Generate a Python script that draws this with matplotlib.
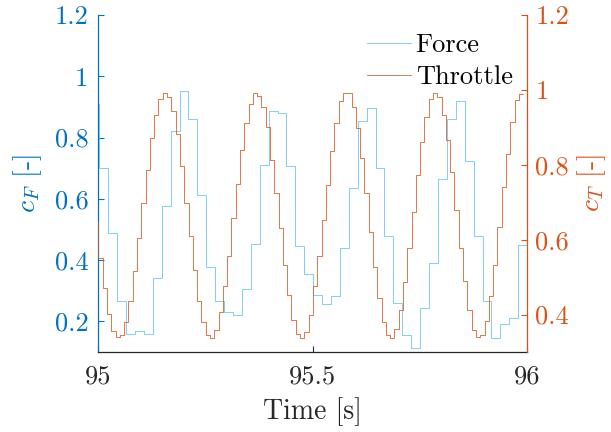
import numpy as np
import matplotlib.pyplot as plt

plt.rcParams['font.family'] = ['cmr10', 'DejaVu Serif']
plt.rcParams['mathtext.fontset'] = 'cm'
plt.rcParams['axes.formatter.use_mathtext'] = True

# force coefficient, sample-and-hold (~48 Hz), first value is the one before 95 s
force_t0 = 94.9824
force_dt = 0.02077
force_vals = [0.909,
              0.702, 0.490, 0.266, 0.158, 0.168, 0.158, 0.340, 0.576, 0.822, 0.953,
              0.862, 0.612, 0.379, 0.266, 0.230, 0.221, 0.307, 0.454, 0.711, 0.887,
              0.879, 0.706, 0.446, 0.354, 0.286, 0.256, 0.283, 0.441, 0.634, 0.855,
              0.898, 0.702, 0.479, 0.261, 0.155, 0.114, 0.245, 0.390, 0.664, 0.860,
              0.918, 0.722, 0.479, 0.266, 0.147, 0.192, 0.212, 0.449, 0.704]

# throttle coefficient, 100 Hz
thr_t0 = 94.991
thr_dt = 0.01
thr_vals = [0.648,
            0.552, 0.470, 0.402, 0.355, 0.340, 0.345, 0.380, 0.437, 0.516, 0.605,
            0.699, 0.786, 0.871, 0.934, 0.976, 0.992, 0.980, 0.944, 0.882, 0.798,
            0.699, 0.610, 0.519, 0.437, 0.380, 0.346, 0.338, 0.360, 0.407, 0.475,
            0.557, 0.657, 0.750, 0.839, 0.911, 0.963, 0.992, 0.985, 0.953, 0.902,
            0.813, 0.724, 0.630, 0.532, 0.453, 0.386, 0.349, 0.338, 0.353, 0.398,
            0.476, 0.557, 0.652, 0.746, 0.838, 0.911, 0.971, 0.992, 0.992, 0.953,
            0.898, 0.819, 0.724, 0.621, 0.528, 0.445, 0.380, 0.345, 0.338, 0.362,
            0.412, 0.486, 0.578, 0.673, 0.773, 0.860, 0.928, 0.975, 0.992, 0.981,
            0.934, 0.867, 0.782, 0.678, 0.578, 0.490, 0.413, 0.360, 0.340, 0.346,
            0.382, 0.449, 0.532, 0.635, 0.740, 0.829, 0.913, 0.972, 0.989, 0.989]

xticks = [95, 95.5, 96]
xticklabels = ['95', '95.5', '96']
left_ticks = [0.2, 0.4, 0.6, 0.8, 1.0, 1.2]
left_labels = ['0.2', '0.4', '0.6', '0.8', '1', '1.2']
right_ticks = [0.4, 0.6, 0.8, 1.0, 1.2]
right_labels = ['0.4', '0.6', '0.8', '1', '1.2']

blue = '#0072BD'
orange = '#D95319'
force_col = '#5EC2EC'
dark = '#262626'

force_t = force_t0 + force_dt * np.arange(len(force_vals))
thr_t = thr_t0 + thr_dt * np.arange(len(thr_vals))

fig = plt.figure(figsize=(6.11, 4.32), dpi=100)
ax = fig.add_axes([98 / 611, 80 / 432, 429 / 611, 337 / 432])
ax2 = ax.twinx()

l1, = ax.plot(force_t, force_vals, drawstyle='steps-post', color=force_col, lw=0.55, label='Force')
l2, = ax2.plot(thr_t, thr_vals, drawstyle='steps-post', color=orange, lw=0.55, label='Throttle')

ax.set_xlim(95, 96)
ax.set_ylim(0.1, 1.2)
ax2.set_ylim(0.3, 1.2)

ax.set_xticks(xticks)
ax.set_xticklabels(xticklabels)
ax.set_yticks(left_ticks)
ax.set_yticklabels(left_labels)
ax2.set_yticks(right_ticks)
ax2.set_yticklabels(right_labels)

for a in (ax, ax2):
    a.spines['top'].set_visible(False)
ax.spines['right'].set_visible(False)
ax2.spines['left'].set_visible(False)
ax2.spines['bottom'].set_visible(False)
ax.spines['left'].set_color(blue)
ax.spines['bottom'].set_color(dark)
ax2.spines['right'].set_color(orange)
for s in ('left', 'bottom'):
    ax.spines[s].set_linewidth(0.9)
ax2.spines['right'].set_linewidth(0.9)

ax.tick_params(axis='x', direction='in', length=4, width=0.8, colors=dark,
               labelsize=19, pad=9)
ax.tick_params(axis='y', direction='in', length=4, width=0.8, colors=blue,
               labelsize=19, pad=7)
ax2.tick_params(axis='y', direction='in', length=4, width=0.8, colors=orange,
                labelsize=19, pad=6)

ax.set_xlabel('Time [s]', fontsize=20, color=dark)
ax.xaxis.set_label_coords(0.5, -0.135)
ax.set_ylabel(r'$c_F$ [-]', fontsize=20, color=blue)
ax.yaxis.set_label_coords(-0.125, 0.5)
ax2.set_ylabel(r'$c_T$ [-]', fontsize=20, color=orange)
ax2.yaxis.set_label_coords(1.113, 0.5)

ax2.legend([l1, l2], ['Force', 'Throttle'], loc='upper left',
           bbox_to_anchor=(0.628, 0.946), frameon=False, fontsize=19,
           handlelength=1.65, handletextpad=0.18, labelspacing=0.31,
           borderpad=0, borderaxespad=0)

fig.savefig('out.png', dpi=100)
